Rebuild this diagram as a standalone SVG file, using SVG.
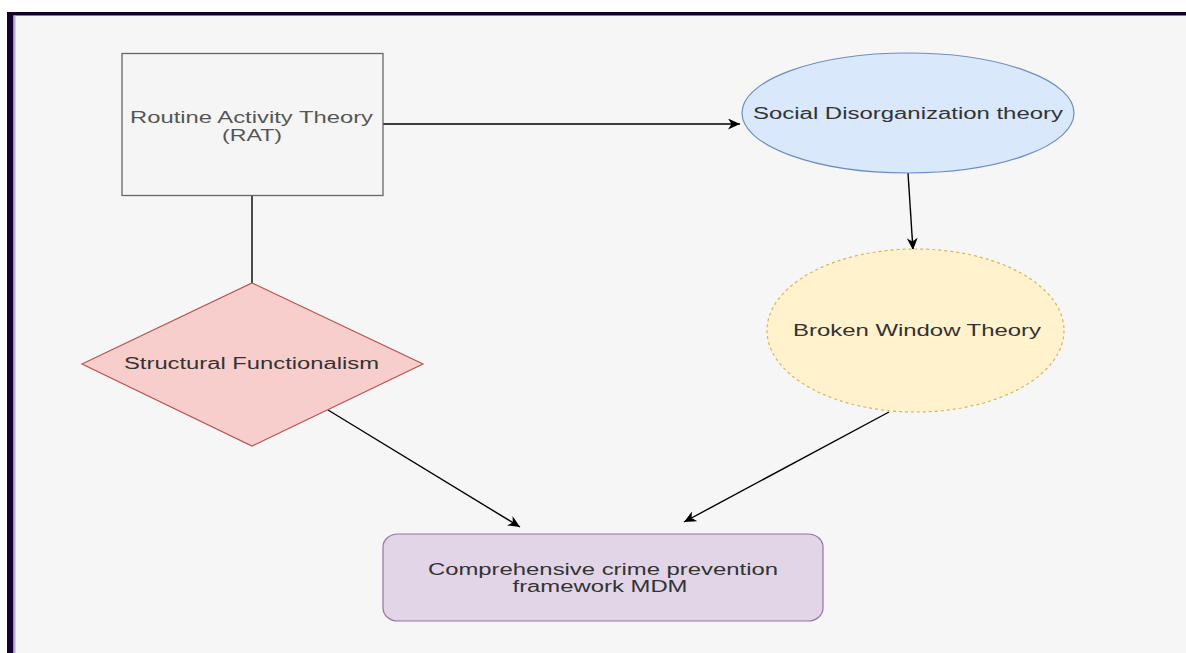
<svg xmlns="http://www.w3.org/2000/svg" width="1186" height="653" viewBox="0 0 1186 653">
  <style>
    .lbl { font-family: "Liberation Sans", Arial, sans-serif; font-size: 16px; fill: #333333; text-anchor: middle; }
    .edge { fill: none; stroke: #000000; stroke-width: 1.4; }
  </style>
  <defs>
    <marker id="arrow" markerUnits="userSpaceOnUse" markerWidth="13" markerHeight="11" viewBox="0 0 13 11" refX="12" refY="5.5" orient="auto">
      <path d="M0,0 L12,5.5 L0,11 L3.5,5.5 Z" fill="#000000"/>
    </marker>
  </defs>
  <rect x="0" y="0" width="1186" height="653" fill="#ffffff"/>
  <rect x="7" y="12" width="1179" height="641" fill="#f6f6f6"/>
  <rect x="7" y="12" width="1179" height="3.5" fill="#14022e"/>
  <rect x="7" y="12" width="6.5" height="641" fill="#14022e"/>
  <rect x="13.5" y="15.5" width="2" height="637.5" fill="#b9a9d2"/>

  <g id="connectors">
    <line class="edge" x1="252" y1="196" x2="252" y2="283" stroke-width="1.6"/>
    <line class="edge" x1="383" y1="124" x2="740" y2="124" marker-end="url(#arrow)"/>
    <line class="edge" x1="908" y1="173" x2="913" y2="250" marker-end="url(#arrow)"/>
    <line class="edge" x1="328" y1="410" x2="520" y2="527" marker-end="url(#arrow)"/>
    <line class="edge" x1="889" y1="412" x2="684" y2="522" marker-end="url(#arrow)"/>
  </g>

  <g id="node-rat">
    <rect x="122" y="53.5" width="261" height="142" fill="#f5f5f5" stroke="#666666" stroke-width="1.3"/>
    <text class="lbl" x="251.5" y="123" textLength="243" lengthAdjust="spacingAndGlyphs" style="fill:#555555">Routine Activity Theory</text>
    <text class="lbl" x="252" y="141" textLength="60" lengthAdjust="spacingAndGlyphs" style="fill:#555555">(RAT)</text>
  </g>

  <g id="node-sdt">
    <ellipse cx="908" cy="113" rx="166" ry="60" fill="#dae8fc" stroke="#6c8ebf" stroke-width="1.2"/>
    <text class="lbl" x="908" y="119" textLength="310" lengthAdjust="spacingAndGlyphs">Social Disorganization theory</text>
  </g>

  <g id="node-sf">
    <polygon points="82,364 252,283 423,364 252,446" fill="#f8cecc" stroke="#b85450" stroke-width="1.2"/>
    <text class="lbl" x="251.5" y="369" textLength="255" lengthAdjust="spacingAndGlyphs">Structural Functionalism</text>
  </g>

  <g id="node-bwt">
    <ellipse cx="915.5" cy="330.5" rx="148.5" ry="81.5" fill="#fff2cc" stroke="#d6b656" stroke-width="1.2" stroke-dasharray="3 3"/>
    <text class="lbl" x="917" y="336" textLength="248" lengthAdjust="spacingAndGlyphs">Broken Window Theory</text>
  </g>

  <g id="node-mdm">
    <rect x="383" y="534" width="440" height="87" rx="15" ry="13" fill="#e1d5e7" stroke="#9673a6" stroke-width="1.2"/>
    <text class="lbl" x="603" y="575" textLength="350" lengthAdjust="spacingAndGlyphs">Comprehensive crime prevention</text>
    <text class="lbl" x="600" y="592" textLength="175" lengthAdjust="spacingAndGlyphs">framework MDM</text>
  </g>
</svg>
